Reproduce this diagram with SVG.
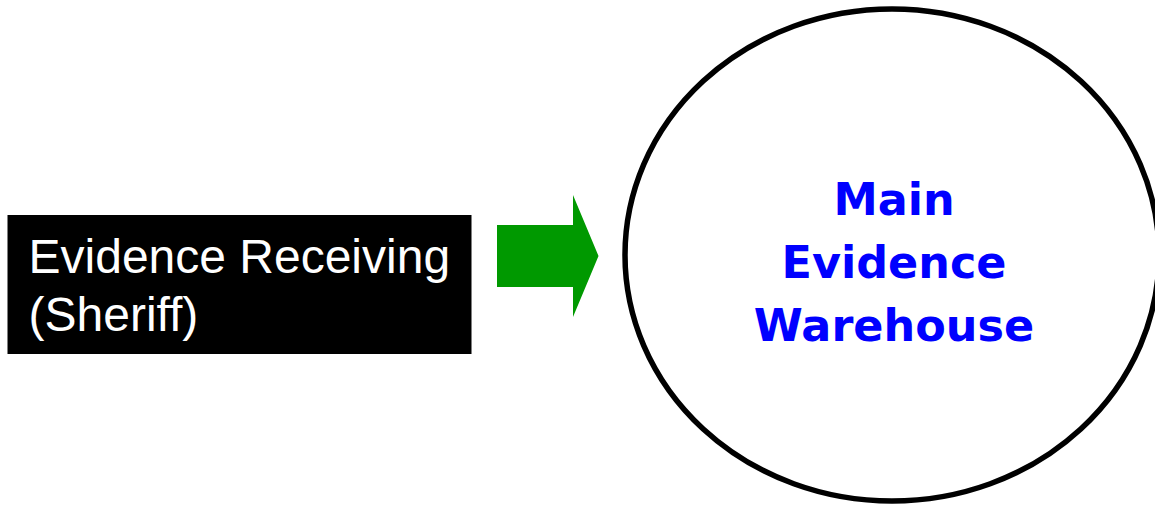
<svg xmlns="http://www.w3.org/2000/svg" width="1155" height="505" viewBox="0 0 1155 505">
  <style>
    .src-label { font-family: "Liberation Sans", Arial, sans-serif; font-size: 48px; fill: #ffffff; }
    .hub-label { font-family: "DejaVu Sans", "Liberation Sans", sans-serif; font-weight: bold; font-size: 44.5px; fill: #0000ff; text-anchor: middle; }
  </style>
  <rect width="1155" height="505" fill="#ffffff"/>

  <!-- source box -->
  <g id="evidence-receiving">
    <rect x="7.5" y="215" width="464" height="139" fill="#000000"/>
    <text class="src-label" x="28.5" y="273">Evidence Receiving</text>
    <text class="src-label" x="28.5" y="331">(Sheriff)</text>
  </g>

  <!-- block arrow into the warehouse -->
  <g id="connectors">
    <polygon points="497,225 573,225 573,195 598.5,256 573,317 573,287 497,287" fill="#009900"/>
  </g>

  <!-- warehouse hub -->
  <g id="main-evidence-warehouse">
    <ellipse cx="892" cy="255" rx="267" ry="246" fill="#ffffff" stroke="#000000" stroke-width="5.5"/>
    <text class="hub-label" x="894" y="215">Main</text>
    <text class="hub-label" x="894" y="278">Evidence</text>
    <text class="hub-label" x="894" y="341">Warehouse</text>
  </g>
</svg>
